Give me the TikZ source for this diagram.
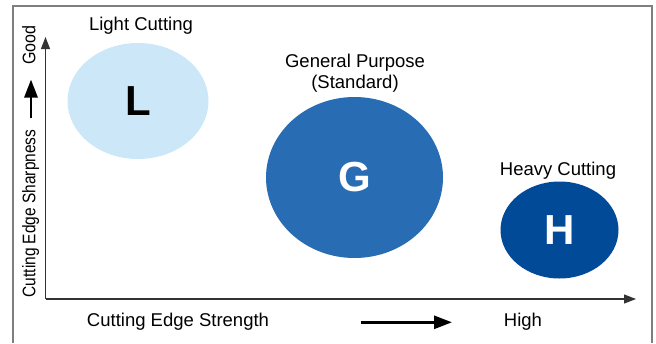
\documentclass[tikz,border=0pt]{standalone}
\usepackage{fontspec}
\setmainfont{Liberation Sans}
\usetikzlibrary{shapes.geometric,arrows.meta}
\definecolor{lightc}{HTML}{CBE7F8}
\definecolor{genc}{HTML}{286CB4}
\definecolor{heavyc}{HTML}{014A98}
\definecolor{framec}{HTML}{7F7F7F}
\definecolor{axisc}{HTML}{333333}
\tikzset{
  blob/.style={ellipse,inner sep=0pt,font=\fontsize{42}{42}\selectfont\bfseries},
  lbl/.style={inner sep=0pt,anchor=base,font=\fontsize{18.5}{22}\selectfont},
  ylbl/.style={inner sep=0pt,anchor=base,font=\fontsize{18.2}{20}\selectfont,rotate=90},
  axisline/.style={draw=axisc,line width=1.2pt,-{Triangle[length=12pt,width=9pt]}},
  bigarrow/.style={draw=black,line width=2.8pt,-{Triangle[length=18pt,width=13pt]}},
}
\begin{document}
\begin{tikzpicture}[x=1pt,y=-1pt]
\useasboundingbox (0,0) rectangle (656,343);
% frame
\draw[framec,line width=1.3pt] (13,343) -- (13,6) -- (652,6) -- (652,343);
% axes
\coordinate (O) at (45.5,299);
\coordinate (Ytop) at (45.5,37);
\coordinate (Xend) at (636,299);
\draw[axisline] (O) -- (Ytop);
\draw[axisline] (O.center) -- (Xend);
% ellipses
\node[blob,fill=lightc,text=black,minimum width=141pt,minimum height=116pt] (L) at (138,101) {L};
\node[blob,fill=genc,text=white,minimum width=177pt,minimum height=161pt] (G) at (354.5,177.5) {G};
\node[blob,fill=heavyc,text=white,minimum width=118pt,minimum height=97pt] (H) at (559.5,230) {H};
% labels
\node[lbl] (tL) at (141,30.7) {Light Cutting};
\node[lbl] (tG1) at (355,67) {General Purpose};
\node[lbl] (tG2) at (355,88) {(Standard)};
\node[lbl] (tH) at (558,175.7) {Heavy Cutting};
\node[lbl] (tX) at (178,326.7) {Cutting Edge Strength};
\node[lbl] (tHigh) at (523,326.7) {High};
% x direction arrow
\coordinate (xa1) at (360.5,322.3);
\coordinate (xa2) at (452,322.3);
\draw[bigarrow] (xa1) -- (xa2);
% y label
\node[ylbl] (tY) at (35.3,213.5) {\scalebox{0.85}[1]{Cutting Edge Sharpness}};
\node[ylbl] (tGood) at (35.3,45) {\scalebox{0.88}[1]{Good}};
\coordinate (ya1) at (31,118);
\coordinate (ya2) at (31,79.5);
\draw[bigarrow] (ya1) -- (ya2);
\end{tikzpicture}
\end{document}
